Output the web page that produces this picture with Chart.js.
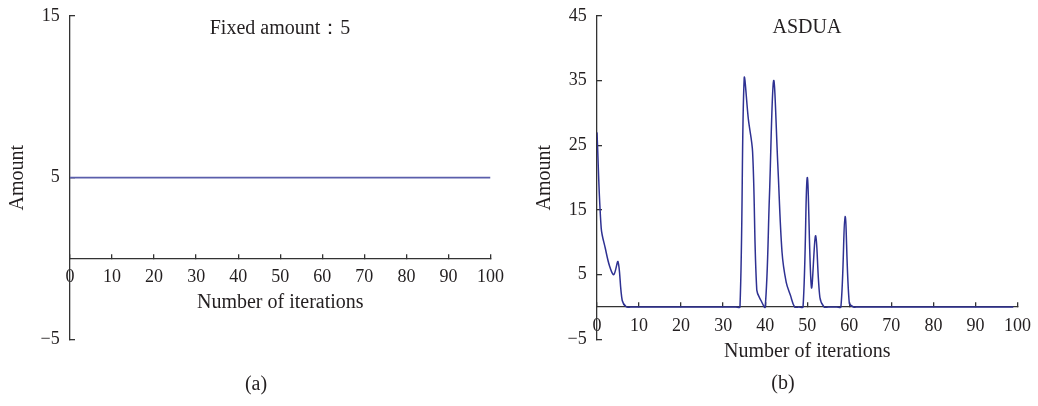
<!DOCTYPE html>
<html>
<head>
<meta charset="utf-8">
<script src="https://cdn.jsdelivr.net/npm/chart.js@4/dist/chart.umd.min.js"></script>
<style>
html,body{margin:0;padding:0;background:#fff;overflow:hidden}
#wrap{position:relative;width:1038px;height:406px;background:#fff;overflow:hidden}
canvas{position:absolute;top:0}
.t{position:absolute;font-family:"Liberation Serif",serif;font-size:20px;line-height:20px;color:#231f20;white-space:nowrap;transform:translateX(-50%)}
</style>
</head>
<body>
<div id="wrap">
  <canvas id="chartA" width="519" height="406" style="left:0px"></canvas>
  <canvas id="chartB" width="519" height="406" style="left:527px"></canvas>
  <div class="t" style="left:280px;top:17px">Fixed amount：5</div>
  <div class="t" style="left:807px;top:16px">ASDUA</div>
  <div class="t" style="left:256px;top:373px">(a)</div>
  <div class="t" style="left:783px;top:372px">(b)</div>
</div>
<script>
// ---- data ----
const iterations = [0,1,2,3,4,5,6,7,8,9,10,11,12,13,14,15,16,17,18,19,20,21,22,23,24,25,26,27,28,29,30,31,32,33,34,35,36,37,38,39,40,41,42,43,44,45,46,47,48,49,50,51,52,53,54,55,56,57,58,59,60,61,62,63,64,65,66,67,68,69,70,71,72,73,74,75,76,77,78,79,80,81,82,83,84,85,86,87,88,89,90,91,92,93,94,95,96,97,98,99,100];
const fixedAmount = [5,5,5,5,5,5,5,5,5,5,5,5,5,5,5,5,5,5,5,5,5,5,5,5,5,5,5,5,5,5,5,5,5,5,5,5,5,5,5,5,5,5,5,5,5,5,5,5,5,5,5,5,5,5,5,5,5,5,5,5,5,5,5,5,5,5,5,5,5,5,5,5,5,5,5,5,5,5,5,5,5,5,5,5,5,5,5,5,5,5,5,5,5,5,5,5,5,5,5,5,5];
const asduaAmount = [27,12.2,9,6.3,5,7,1,0,0,0,0,0,0,0,0,0,0,0,0,0,0,0,0,0,0,0,0,0,0,0,0,0,0,0,0,35.3,29,24,2.6,1,0,17,35,22,8.5,3.8,1.8,0,0,0,20,3,11,1.5,0,0,0,0,0,14,0.6,0,0,0,0,0,0,0,0,0,0,0,0,0,0,0,0,0,0,0,0,0,0,0,0,0,0,0,0,0,0,0,0,0,0,0,0,0,0,0];
const xTickStep = 10;
const yRangeA = [-5, 15];
const yRangeB = [-5, 45];
const yTickStep = 10;

// ---- style ----
const INK = '#231f20';
const AXIS = '#333333';
Chart.defaults.font.family = "'Liberation Serif', 'Times New Roman', serif";
Chart.defaults.color = INK;

function makeChart(id, values, yr, color, lw) {
  const pts = iterations.map((x, i) => ({x: x, y: values[i]}));
  return new Chart(document.getElementById(id), {
    type: 'line',
    data: { datasets: [{ data: pts, borderColor: color, borderWidth: lw, pointRadius: 0, tension: 0.35, fill: false }] },
    options: {
      responsive: false,
      animation: false,
      events: [],
      layout: { padding: { left: 7.5, top: 16, right: 28.5, bottom: 66.7 } },
      plugins: { legend: { display: false }, tooltip: { enabled: false }, title: { display: false } },
      scales: {
        x: {
          type: 'linear', min: 0, max: 100,
          position: { y: 0 },
          border: { display: true, color: AXIS, width: 1.3 },
          grid: { drawOnChartArea: false, drawTicks: true, tickLength: -5, color: AXIS, tickColor: AXIS, lineWidth: 1.3 },
          ticks: { stepSize: xTickStep, padding: 15, font: { size: 18, lineHeight: 1 }, color: INK, maxRotation: 0, autoSkip: false },
          title: { display: true, text: 'Number of iterations', font: { size: 20, lineHeight: 1 }, color: INK, padding: { top: -8.5, bottom: 0 } }
        },
        y: {
          type: 'linear', min: yr[0], max: yr[1],
          position: 'left',
          border: { display: true, color: AXIS, width: 1.3 },
          grid: { drawOnChartArea: false, drawTicks: true, tickLength: -5, color: AXIS, tickColor: AXIS, lineWidth: 1.3 },
          ticks: { stepSize: yTickStep, mirror: true, crossAlign: 'far', padding: -29.5, font: { size: 18, lineHeight: 1 }, color: INK,
                   callback: v => String(v).replace('-', '\u2212') },
          title: { display: true, text: 'Amount', font: { size: 20, lineHeight: 1 }, color: INK, padding: { top: 0, bottom: 106.5 } }
        }
      }
    }
  });
}

makeChart('chartA', fixedAmount, yRangeA, '#5a5eab', 1.8);
makeChart('chartB', asduaAmount, yRangeB, '#2e3192', 1.5);
</script>
</body>
</html>
